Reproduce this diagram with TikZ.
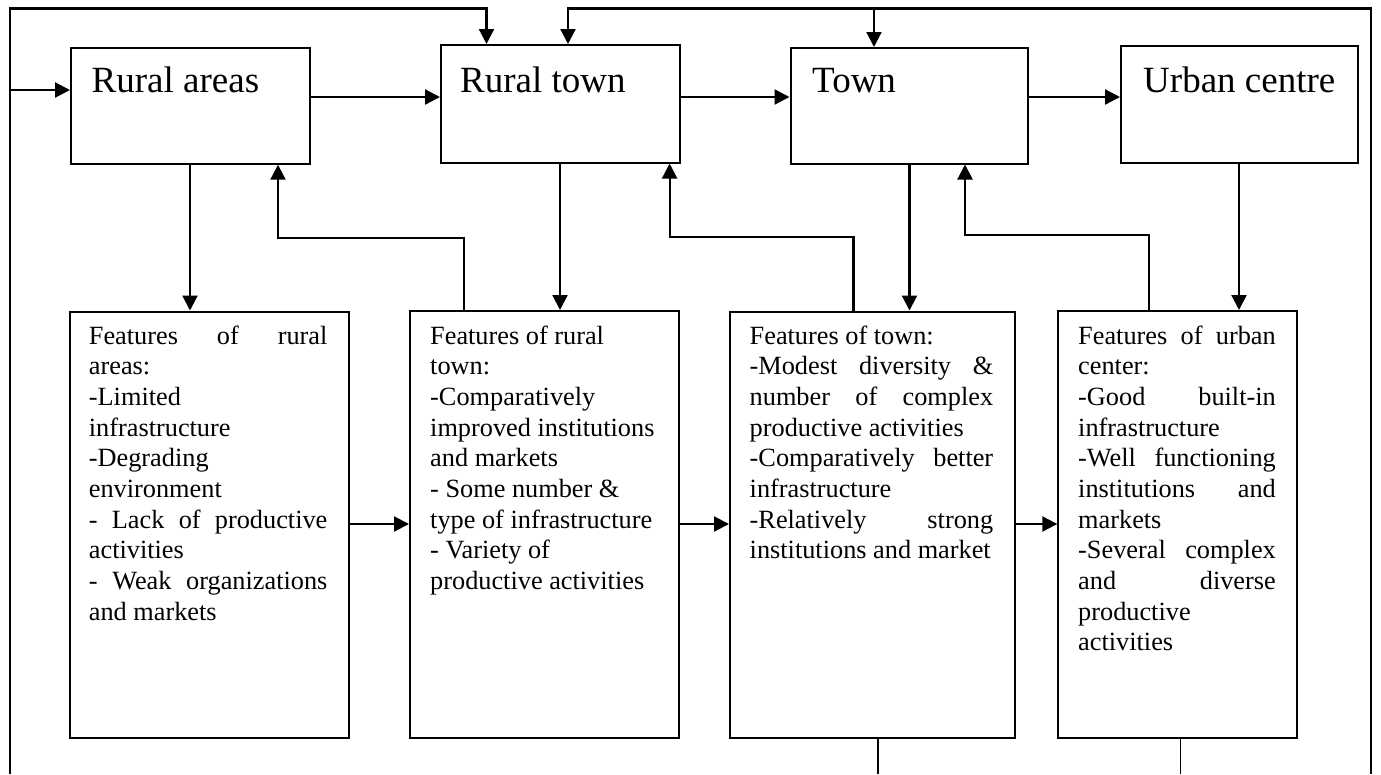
\documentclass[tikz,border=0pt]{standalone}
\usepackage{fontspec}
\setmainfont{Liberation Serif}
\usetikzlibrary{arrows.meta}
\newcommand{\jl}[2]{\makebox[#1][s]{#2}}
\newcommand{\fstrut}{\spaceskip=0pt\xspaceskip=0pt\hyphenpenalty=10000\exhyphenpenalty=10000\relax\rule{0pt}{24pt}}
\begin{document}
\begin{tikzpicture}[x=1pt,y=-1pt,
  box/.style={draw,line width=2pt,inner sep=0pt,anchor=north west},
  ttl/.style={inner sep=0pt,anchor=base west,font=\fontsize{37}{40}\selectfont},
  txt/.style={inner sep=0pt,anchor=north west,align=left,font=\fontsize{26.3}{30.65}\selectfont},
  arr/.style={line width=2.2pt,-{Triangle[length=15pt,width=15pt]}},
  ln/.style={line width=1.3pt}]
\useasboundingbox (0,0) rectangle (1381,774);
% top boxes
\node[box,minimum width=238.5pt,minimum height=116.2pt] (ra) at (70,46.5) {};
\node[box,minimum width=238.5pt,minimum height=117.5pt] (rt) at (440,44) {};
\node[box,minimum width=237.5pt,minimum height=115.5pt] (tw) at (789.5,47) {};
\node[box,minimum width=237pt,minimum height=117pt] (uc) at (1120,44.5) {};
\node[ttl] (tra) at (91.5,92) {Rural areas};
\node[ttl] (trt) at (460,92) {Rural town};
\node[ttl] (ttw) at (812,92) {Town};
\node[ttl] (tuc) at (1143,92) {Urban centre};
% feature boxes
\node[box,minimum width=279.5pt,minimum height=426.5pt] (f1) at (68.5,310.5) {};
\node[box,minimum width=269pt,minimum height=427pt] (f2) at (409,310) {};
\node[box,minimum width=284.7pt,minimum height=426.5pt] (f3) at (729,310.5) {};
\node[box,minimum width=238.7pt,minimum height=427pt] (f4) at (1057.3,310) {};
\node[txt,text width=238.5pt] (t1) at (88.7,320) {\fstrut\jl{238.5pt}{Features of rural}\\
areas:\\
-Limited\\
infrastructure\\
-Degrading\\
environment\\
\jl{238.5pt}{- Lack of productive}\\
activities\\
\jl{238.5pt}{- Weak organizations}\\
and markets};
\node[txt,text width=240pt] (t2) at (430,320) {\fstrut Features of rural\\
town:\\
-Comparatively\\
improved institutions\\
and markets\\
- Some number \&\\
type of infrastructure\\
- Variety of\\
productive activities};
\node[txt,text width=243.5pt] (t3) at (749.5,320) {\fstrut Features of town:\\
\jl{243.5pt}{-Modest diversity \&}\\
\jl{243.5pt}{number of complex}\\
productive activities\\
\jl{243.5pt}{-Comparatively better}\\
infrastructure\\
\jl{243.5pt}{-Relatively strong}\\
institutions and market};
\node[txt,text width=197.6pt] (t4) at (1078,320) {\fstrut\jl{197.6pt}{Features of urban}\\
center:\\
\jl{197.6pt}{-Good built-in}\\
infrastructure\\
\jl{197.6pt}{-Well functioning}\\
\jl{197.6pt}{institutions and}\\
markets\\
\jl{197.6pt}{-Several complex}\\
\jl{197.6pt}{and diverse}\\
productive\\
activities};
% coordinates
\coordinate (fbl) at (10,774);
\coordinate (fbr) at (1371,774);
\coordinate (ftop1) at (486.5,8.5);
\coordinate (ftop2) at (568,8.5);
\coordinate (ftop3) at (874,8.5);
\coordinate (lin) at (10,90);
\coordinate (r1) at (0,97);
\coordinate (r2) at (0,524);
\coordinate (d1) at (190,0);
\coordinate (d2) at (560,0);
\coordinate (d3) at (909.5,0);
\coordinate (d4) at (1239,0);
\coordinate (u1) at (463.6,238.3);
\coordinate (u1b) at (278,0);
\coordinate (u2) at (853.4,236.7);
\coordinate (u2b) at (669.6,0);
\coordinate (u3) at (1149,235);
\coordinate (u3b) at (965,0);
\coordinate (b3) at (878,774);
\coordinate (b4) at (1180.6,774);
% frame
\draw[arr] (fbl) |- (ftop1) -- (rt.north -| ftop1);
\draw[arr] (fbr) |- (ftop2) -- (rt.north -| ftop2);
\draw[arr] (ftop3) -- (tw.north -| ftop3);
\draw[arr] (lin) -- (ra.west |- lin);
% top row
\draw[arr] (ra.east |- r1) -- (rt.west |- r1);
\draw[arr] (rt.east |- r1) -- (tw.west |- r1);
\draw[arr] (tw.east |- r1) -- (uc.west |- r1);
% feature row
\draw[arr] (f1.east |- r2) -- (f2.west |- r2);
\draw[arr] (f2.east |- r2) -- (f3.west |- r2);
\draw[arr] (f3.east |- r2) -- (f4.west |- r2);
% down
\draw[arr] (ra.south -| d1) -- (f1.north -| d1);
\draw[arr] (rt.south -| d2) -- (f2.north -| d2);
\draw[arr] (tw.south -| d3) -- (f3.north -| d3);
\draw[arr] (uc.south -| d4) -- (f4.north -| d4);
% feedback
\draw[arr] (f2.north -| u1) |- (u1b |- u1) -- (ra.south -| u1b);
\draw[arr] (f3.north -| u2) |- (u2b |- u2) -- (rt.south -| u2b);
\draw[arr] (f4.north -| u3) |- (u3b |- u3) -- (tw.south -| u3b);
% bottom lines
\draw[ln] (f3.south -| b3) -- (b3);
\draw[ln] (f4.south -| b4) -- (b4);
\end{tikzpicture}
\end{document}
